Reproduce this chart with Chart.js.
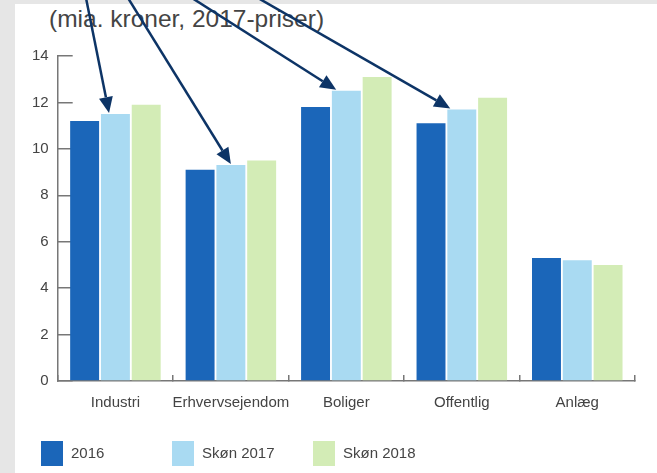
<!DOCTYPE html>
<html>
<head>
<meta charset="utf-8">
<script src="https://cdn.jsdelivr.net/npm/chart.js@4/dist/chart.umd.min.js"></script>
<style>
  html, body { margin: 0; padding: 0; }
  body { width: 657px; height: 473px; background: #e6e6e6; position: relative; overflow: hidden; font-family: "Liberation Sans", Arial, sans-serif; }
  .panel { position: absolute; left: 15px; top: 4px; right: 0; bottom: 0; background: #fff; }
  .title { position: absolute; left: 49px; top: 5px; font-size: 24.5px; line-height: 28px; color: #444; white-space: nowrap; }
  .wrap { position: absolute; left: 0; top: 0; width: 657px; height: 473px; }
  .legend { position: absolute; top: 441px; left: 0; height: 25px; }
  .legend .item { position: absolute; top: 0; height: 25px; }
  .legend .box { position: absolute; left: 0; top: 0; width: 22px; height: 25px; }
  .legend .txt { position: absolute; top: 3px; font-size: 15px; color: #444; white-space: nowrap; }
</style>
</head>
<body>
<div class="panel"></div>
<div class="title">(mia. kroner, 2017-priser)</div>
<div class="wrap"><canvas id="chart" width="657" height="473"></canvas></div>
<div class="legend" id="legend"></div>
<script>
// data
const categories = ["Industri", "Erhvervsejendom", "Boliger", "Offentlig", "Anlæg"];
const seriesNames = ["2016", "Skøn 2017", "Skøn 2018"];
const values2016 = [11.2, 9.1, 11.8, 11.1, 5.3];
const values2017 = [11.5, 9.3, 12.5, 11.7, 5.2];
const values2018 = [11.9, 9.5, 13.1, 12.2, 5.0];

const colors = ["#1b66b9", "#a9daf2", "#d3ecb6"];

// arrows point at the "Skøn 2017" bars
const arrowCategories = [0, 1, 2, 3];
const arrowStartX = [86, 128, 192, 258];
const arrowTipShift = [-0.22, 0, -0.35, -0.4];

const arrowPlugin = {
    id: "arrows",
    afterDatasetsDraw(chart) {
        const ctx = chart.ctx;
        const meta = chart.getDatasetMeta(1);
        ctx.save();
        ctx.strokeStyle = "#0d3466";
        ctx.fillStyle = "#0d3466";
        ctx.lineWidth = 2.5;
        arrowCategories.forEach((ci, i) => {
            const bar = meta.data[ci];
            const tx = bar.x + arrowTipShift[i] * bar.width;
            const ty = bar.y - 1;
            const sx = arrowStartX[i];
            const sy = -2;
            const ang = Math.atan2(ty - sy, tx - sx);
            const headLen = 16, headW = 7;
            const bx = tx - headLen * Math.cos(ang);
            const by = ty - headLen * Math.sin(ang);
            ctx.beginPath();
            ctx.moveTo(sx, sy);
            ctx.lineTo(bx, by);
            ctx.stroke();
            ctx.beginPath();
            ctx.moveTo(tx, ty);
            ctx.lineTo(bx + headW * Math.sin(ang), by - headW * Math.cos(ang));
            ctx.lineTo(bx - headW * Math.sin(ang), by + headW * Math.cos(ang));
            ctx.closePath();
            ctx.fill();
        });
        ctx.restore();
    }
};

const allValues = [values2016, values2017, values2018];

const chart = new Chart(document.getElementById("chart"), {
    type: "bar",
    data: {
        labels: categories,
        datasets: seriesNames.map((name, i) => ({
            label: name,
            data: allValues[i],
            backgroundColor: colors[i],
            borderWidth: 0,
            categoryPercentage: 0.8,
            barPercentage: 0.94
        }))
    },
    options: {
        responsive: false,
        animation: false,
        layout: { padding: { left: 8, right: 22, top: 56, bottom: 42 } },
        plugins: {
            legend: { display: false },
            tooltip: { enabled: false }
        },
        scales: {
            x: {
                grid: { drawOnChartArea: false, tickLength: -6, color: "#777", lineWidth: 1.5 },
                border: { color: "#777", width: 1.5 },
                ticks: { color: "#444", padding: 19, maxRotation: 0, minRotation: 0, autoSkip: false, font: { family: "Liberation Sans", size: 15 } }
            },
            y: {
                min: 0,
                max: 14,
                grid: { drawOnChartArea: false, tickLength: -15, color: "#777", lineWidth: 1.5 },
                border: { color: "#777", width: 1.5 },
                ticks: { stepSize: 2, color: "#444", padding: 24, font: { family: "Liberation Sans", size: 15 } }
            }
        }
    },
    plugins: [arrowPlugin]
});

// legend built from the chart's datasets
const legendEl = document.getElementById("legend");
const legendLeft = [41, 172, 313];
chart.data.datasets.forEach((ds, i) => {
    const item = document.createElement("div");
    item.className = "item";
    item.style.left = legendLeft[i] + "px";
    const box = document.createElement("div");
    box.className = "box";
    box.style.background = ds.backgroundColor;
    const txt = document.createElement("div");
    txt.className = "txt";
    txt.style.left = "30px";
    txt.textContent = ds.label;
    item.appendChild(box);
    item.appendChild(txt);
    legendEl.appendChild(item);
});
</script>
</body>
</html>
